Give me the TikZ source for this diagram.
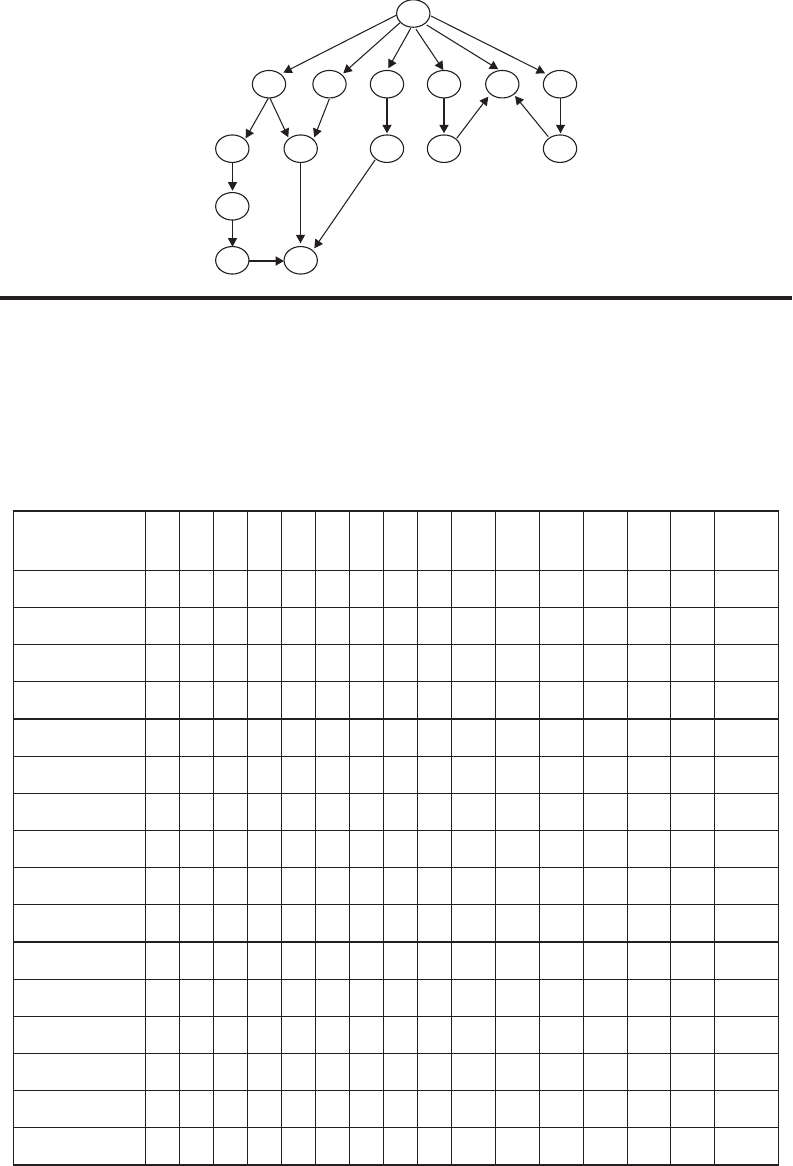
\documentclass[tikz,border=0pt]{standalone}
\usetikzlibrary{shapes.geometric,arrows.meta,calc}
\definecolor{ink}{RGB}{35,31,32}
\begin{document}
\begin{tikzpicture}[x=1pt,y=-1pt,
  vtx/.style={draw=ink,ellipse,minimum width=33.3pt,minimum height=27.5pt,inner sep=0pt,line width=1.1pt},
  arr/.style={draw=ink,line width=1.05pt,-{Triangle[length=8.5pt,width=9pt]}},
  thick arr/.style={arr,line width=1.9pt},
  grid line/.style={draw=ink,line width=1.1pt}]
\useasboundingbox (0,0) rectangle (792,1166);
% ---------- graph nodes ----------
\node[vtx] (root) at (413.3,13.5) {};
\node[vtx] (r1a) at (269,84.2) {};
\node[vtx] (r1b) at (329.5,84.2) {};
\node[vtx] (r1c) at (387,84.2) {};
\node[vtx] (r1d) at (444,84.2) {};
\node[vtx] (r1e) at (502.3,84.2) {};
\node[vtx] (r1f) at (560,84.2) {};
\node[vtx] (r2a) at (232.3,148.7) {};
\node[vtx] (r2b) at (300.7,148.7) {};
\node[vtx] (r2c) at (387,148.7) {};
\node[vtx] (r2d) at (444,148.7) {};
\node[vtx] (r2e) at (560,148.7) {};
\node[vtx] (r3a) at (232.3,206.3) {};
\node[vtx] (r4a) at (232.3,260.3) {};
\node[vtx] (r4b) at (300.7,260.3) {};
% ---------- connectors ----------
\draw[arr] ($(root)+(-16.6,1.5)$) -- ($(r1a)+(14.3,-11.5)$);
\draw[arr] ($(root)+(-13.3,9.2)$) -- ($(r1b)+(13.8,-10.9)$);
\draw[arr] ($(root)+(-2.6,14.8)$) -- ($(r1c)+(1.3,-15.9)$);
\draw[arr] ($(root)+(2.7,15.8)$) -- ($(r1d)+(-0.7,-14.2)$);
\draw[arr] ($(root)+(13.4,11.5)$) -- ($(r1e)+(-4,-14.9)$);
\draw[arr] ($(root)+(17.7,2.5)$) -- ($(r1f)+(-15,-10.9)$);
\draw[arr] ($(r1a)+(-0.7,14.1)$) -- ($(r2a)+(13.4,-10.4)$);
\draw[arr] ($(r1a)+(1,14.1)$) -- ($(r2b)+(-12.4,-11.4)$);
\draw[arr] ($(r1b)+(-0.2,14.8)$) -- ($(r2b)+(13.6,-11.4)$);
\draw[thick arr] ($(r1c)+(0,14.1)$) -- ($(r2c)+(0,-15.4)$);
\draw[thick arr] ($(r1d)+(0,14.1)$) -- ($(r2d)+(0,-15.4)$);
\draw[arr] ($(r2d)+(12.7,-10.4)$) -- ($(r1e)+(-14,12.5)$);
\draw[arr] ($(r2e)+(-11.7,-12)$) -- ($(r1e)+(12.7,11.8)$);
\draw[arr] ($(r1f)+(0.5,14.1)$) -- ($(r2e)+(0.5,-15.4)$);
\draw[arr] ($(r2a)+(0.2,13.6)$) -- ($(r3a)+(0.2,-15.6)$);
\draw[arr] ($(r3a)+(0.2,13.7)$) -- ($(r4a)+(0.2,-13.6)$);
\draw[thick arr] ($(r4a)+(17,0.7)$) -- ($(r4b)+(-16.7,0.7)$);
\draw[arr] ($(r2b)+(-0.2,13.6)$) -- ($(r4b)+(-0.2,-17)$);
\draw[arr] ($(r2c)+(-12,11.3)$) -- ($(r4b)+(13.6,-12)$);
% ---------- rule ----------
\draw[ink,line width=4pt] (0,298) -- (792,298);
% ---------- table ----------
\draw[grid line] (13.3,511) rectangle (778.3,1165);
\foreach \x in {145.7,179.7,213.3,247.3,281.7,315.3,349.3,383.3,417.3,451.7,495.7,539.7,583.3,627.7,670.7,714.3}
  \draw[grid line] (\x,511) -- (\x,1165);
\foreach \i in {0,...,15}
  \draw[grid line] (13.3,570.3+37.17*\i) -- (778.3,570.3+37.17*\i);
\end{tikzpicture}
\end{document}
